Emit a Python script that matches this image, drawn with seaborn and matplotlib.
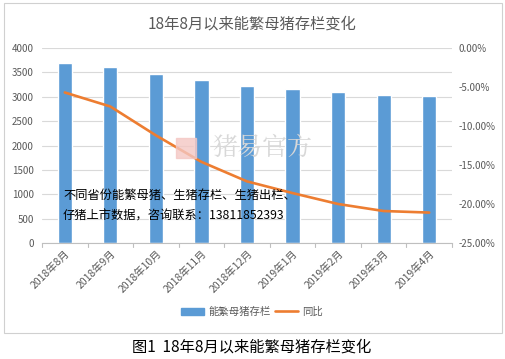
import numpy as np
import pandas as pd
import matplotlib.pyplot as plt
import seaborn as sns
from matplotlib.patches import Rectangle
from matplotlib.lines import Line2D
from matplotlib.patches import Patch

months = ["2018年8月", "2018年9月", "2018年10月", "2018年11月", "2018年12月",
          "2019年1月", "2019年2月", "2019年3月", "2019年4月"]
sows = [3686, 3617, 3473, 3344, 3221, 3153, 3091, 3036, 3015]
yoy = [-5.7, -7.5, -11.2, -14.6, -17.1, -18.6, -20.0, -20.9, -21.1]

sns.set_style("white")
plt.rcParams["font.family"] = ["Noto Sans CJK SC", "DejaVu Sans"]

bar_color = "#5B9BD5"
line_color = "#ED7D31"
grey = "#595959"

fig = plt.figure(figsize=(5.05, 3.59), dpi=100)
fig.patches.append(Rectangle((4 / 505, 1 - 333 / 359), 498 / 505, 330 / 359,
                             transform=fig.transFigure, fill=False,
                             edgecolor="#D0D0D0", linewidth=0.8))

ax = fig.add_axes([42 / 505, 1 - 243 / 359, 410 / 505, 195 / 359])
df = pd.DataFrame({"month": months, "sows": sows, "idx": range(len(months))})
sns.barplot(data=df, x="month", y="sows", color=bar_color, width=0.31,
            saturation=1, ax=ax, zorder=2)
ax.set_ylim(0, 4000)
ax.set_yticks(range(0, 4001, 500))
ax.grid(axis="y", color="#D9D9D9", linewidth=0.8, zorder=0)
ax.set_axisbelow(True)
ax.set_xlim(-0.5, len(months) - 0.5)
ax.set_xlabel("")
ax.set_ylabel("")
for s in ["top", "right", "left"]:
    ax.spines[s].set_visible(False)
ax.spines["bottom"].set_color("#BFBFBF")
ax.tick_params(axis="y", length=0, labelsize=7, labelcolor=grey, pad=6)
ax.set_xticks(np.arange(len(months)))
ax.set_xticklabels(months, rotation=45, ha="right", rotation_mode="anchor",
                   fontsize=7.5, color=grey)
ax.tick_params(axis="x", length=0, pad=4)
for b in np.arange(-0.5, len(months), 1.0):
    ax.plot([b, b], [0, -80], color="#BFBFBF", lw=0.8, clip_on=False)

ax2 = ax.twinx()
sns.lineplot(x=df["idx"], y=yoy, color=line_color, linewidth=1.9, ax=ax2)
ax2.set_ylim(-25, 0)
ax2.set_yticks(range(-25, 1, 5))
ax2.set_yticklabels([f"{v:.2f}%" for v in range(-25, 1, 5)])
ax2.tick_params(axis="y", length=0, labelsize=7, labelcolor=grey, pad=5)
ax2.set_ylabel("")
for s in ["top", "right", "left", "bottom"]:
    ax2.spines[s].set_visible(False)

# watermark
fig.text(262 / 505, 1 - 148 / 359, "猪易官方", fontsize=18, color="#D8D8D8",
         ha="center", va="center", zorder=0,
         family=["Noto Serif CJK SC", "Noto Sans CJK SC"])
fig.patches.append(Rectangle((176 / 505, 1 - 158 / 359), 20 / 505, 20 / 359,
                             transform=fig.transFigure, color="#F4C7C3",
                             alpha=0.8))

fig.text(63 / 505, 1 - 195 / 359, "不同省份能繁母猪、生猪存栏、生猪出栏、",
         fontsize=8.8, color="black", va="center", ha="left")
fig.text(63 / 505, 1 - 216 / 359, "仔猪上市数据，咨询联系：13811852393",
         fontsize=8.8, color="black", va="center", ha="left")

fig.text(252 / 505, 1 - 24 / 359, "18年8月以来能繁母猪存栏变化", fontsize=11,
         color=grey, ha="center", va="center")

handles = [Patch(color=bar_color), Line2D([0], [0], color=line_color, lw=1.9)]
fig.legend(handles, ["能繁母猪存栏", "同比"], loc="center",
           bbox_to_anchor=(252 / 505, 1 - 312 / 359), ncol=2, frameon=False,
           fontsize=7.5, labelcolor=grey, handlelength=2.2, columnspacing=0.4,
           handletextpad=0.4)

fig.text(252 / 505, 1 - 347 / 359, "图1  18年8月以来能繁母猪存栏变化",
         fontsize=11, color="black", ha="center", va="center")

fig.savefig("out.png", dpi=100)
